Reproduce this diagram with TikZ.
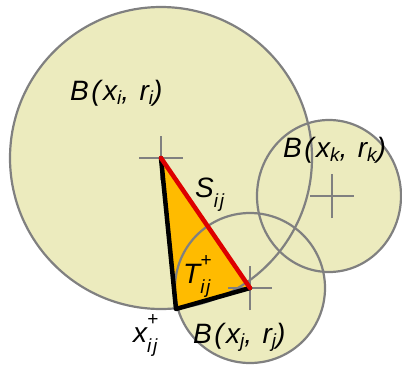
\documentclass[tikz,border=0pt]{standalone}
\usepackage{fontspec}
\setmainfont{Liberation Sans}
\usetikzlibrary{calc}
\definecolor{ballfill}{RGB}{236,235,190}
\definecolor{ballrim}{RGB}{128,128,128}
\definecolor{trifill}{RGB}{255,187,0}
\definecolor{segred}{RGB}{221,0,0}
\newcommand{\idxfont}{\fontsize{19}{19}\selectfont}
\newcommand{\lsub}[1]{\raisebox{-0.15em}{\idxfont #1}}
\newcommand{\llow}[1]{\raisebox{-0.36em}{\idxfont #1}}
\newcommand{\lsubsup}[2]{\rlap{\raisebox{0.6em}{\idxfont #2}}\raisebox{-0.38em}{\idxfont #1}}

\begin{document}
\begin{tikzpicture}[x=1pt, y=-1pt,
  rim/.style={draw=ballrim, line width=2.2pt},
  crossline/.style={draw=ballrim, line width=2.2pt},
  edge/.style={line width=4.5pt, line cap=round, line join=round},
  lab/.style={font=\fontsize{28}{32}\selectfont\itshape\addfontfeature{LetterSpace=9},
    inner sep=0pt, anchor=base west}]
  \useasboundingbox (0,0) rectangle (402,367);
  % --- Centres and corner ---
  \coordinate (ci) at (161,158);
  \coordinate (cj) at (250,288);
  \coordinate (ck) at (332,196);
  \coordinate (ok) at (329,196);
  \coordinate (xp) at (176,309);
  % --- Balls ---
  \fill[ballfill] (ci) circle (151);
  \fill[ballfill] (ok) ellipse (72 and 76);
  \fill[ballfill] (cj) circle (75);
  % Triangle
  \fill[trifill] (ci) -- (xp) -- (cj) -- cycle;
  \draw[rim] (ci) circle (151);
  \draw[rim] (ok) ellipse (72 and 76);
  \draw[rim] (cj) circle (75);
  % Crosses
  \foreach \c in {ci,cj,ck}
    \draw[crossline] ([xshift=-22pt]\c) -- ([xshift=22pt]\c)
                     ([yshift=-22pt]\c) -- ([yshift=22pt]\c);
  % Edges
  \draw[edge] (ci) -- (xp) -- (cj);
  \draw[edge, segred] (ci) -- (cj);
  % --- Labels ---
  \node[lab] (lbi) at (70,100) {B(x\lsub{i}, r\lsub{i})};
  \node[lab] (lbk) at (283,157) {B(x\lsub{k}, r\lsub{k})};
  \node[lab] (lbj) at (193,343) {B(x\lsub{j}, r\lsub{j})};
  \node[lab] (ls) at (195,197) {S\llow{ij}};
  \node[lab] (lt) at (183,283) {T\lsubsup{ij}{+}};
  \node[lab] (lx) at (133,342) {x\lsubsup{ij}{+}};
\end{tikzpicture}
\end{document}
